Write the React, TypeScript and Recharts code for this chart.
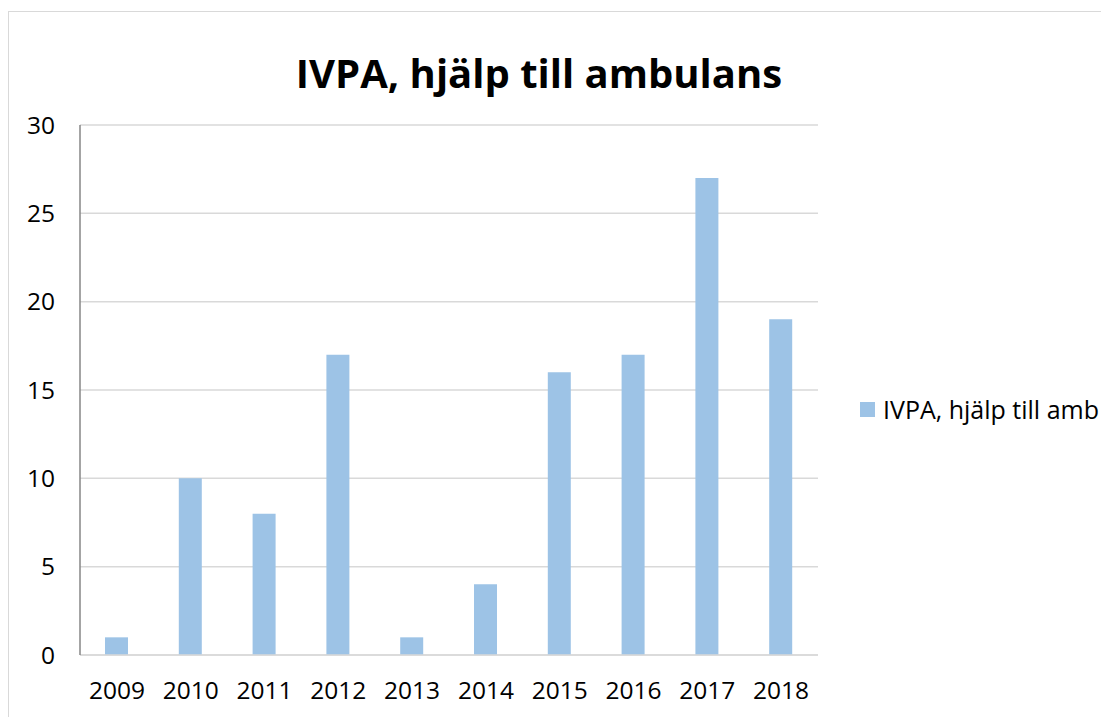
import { BarChart, Bar, XAxis, YAxis, CartesianGrid, Legend } from 'recharts';

const years = ['2009', '2010', '2011', '2012', '2013', '2014', '2015', '2016', '2017', '2018'];
const ambulansHjalp = [1, 10, 8, 17, 1, 4, 16, 17, 27, 19];
const yTicks = [0, 5, 10, 15, 20, 25, 30];

const seriesName = 'IVPA, hjälp till amb';
const title = 'IVPA, hjälp till ambulans';

const data = years.map((year, i) => ({ year, value: ambulansHjalp[i] }));

const BAR_COLOR = '#9DC3E6';
const FONT = '"Open Sans", sans-serif';
const TICK_FONT = 24.5;

function LegendBox({ payload }: any) {
  return (
    <div>
      {(payload || []).map((entry: any) => (
        <div key={entry.value} style={{ display: 'flex', alignItems: 'center', height: 30 }}>
          <div style={{ width: 15, height: 15, background: entry.color, marginRight: 8 }} />
          <span style={{ fontSize: 25, color: '#000', whiteSpace: 'nowrap', lineHeight: '30px' }}>
            {entry.value}
          </span>
        </div>
      ))}
    </div>
  );
}

export default function App() {
  return (
    <div
      style={{
        position: 'relative',
        width: 1101,
        height: 709,
        overflow: 'hidden',
        fontFamily: FONT,
        background: '#fff',
      }}
    >
      {/* chart frame, right and bottom edges run off the page */}
      <div
        style={{
          position: 'absolute',
          left: 0,
          top: 3,
          width: 1101,
          height: 706,
          borderLeft: '1px solid #d9d9d9',
          borderTop: '1px solid #d9d9d9',
          boxSizing: 'border-box',
        }}
      />
      <svg width={1101} height={709} style={{ position: 'absolute', left: 0, top: 0 }}>
        <text
          x={531}
          y={80}
          textAnchor="middle"
          fontFamily={FONT}
          fontWeight={700}
          fontSize={40}
          fill="#000"
        >
          {title}
        </text>
      </svg>
      <div style={{ position: 'absolute', left: 0, top: 0 }}>
        <BarChart
          width={1101}
          height={709}
          data={data}
          margin={{ top: 117, right: 291, bottom: 22, left: 0 }}
        >
          <CartesianGrid vertical={false} stroke="#d9d9d9" strokeWidth={1.5} />
          <XAxis
            dataKey="year"
            height={40}
            tickLine={false}
            tickSize={0}
            tickMargin={27}
            axisLine={{ stroke: '#d9d9d9', strokeWidth: 1.5 }}
            tick={{ fontSize: TICK_FONT, fill: '#000', fontFamily: FONT }}
            interval={0}
          />
          <YAxis
            width={72}
            domain={[0, 30]}
            ticks={yTicks}
            tickLine={false}
            tickSize={0}
            tickMargin={25}
            axisLine={{ stroke: '#868686', strokeWidth: 1.5 }}
            tick={{ fontSize: TICK_FONT, fill: '#000', fontFamily: FONT }}
            interval={0}
          />
          <Legend
            layout="horizontal"
            verticalAlign="middle"
            align="center"
            content={<LegendBox />}
            wrapperStyle={{ position: 'absolute', left: 852, top: 386, width: 250 }}
          />
          <Bar dataKey="value" name={seriesName} fill={BAR_COLOR} barSize={23} isAnimationActive={false} />
        </BarChart>
      </div>
    </div>
  );
}
